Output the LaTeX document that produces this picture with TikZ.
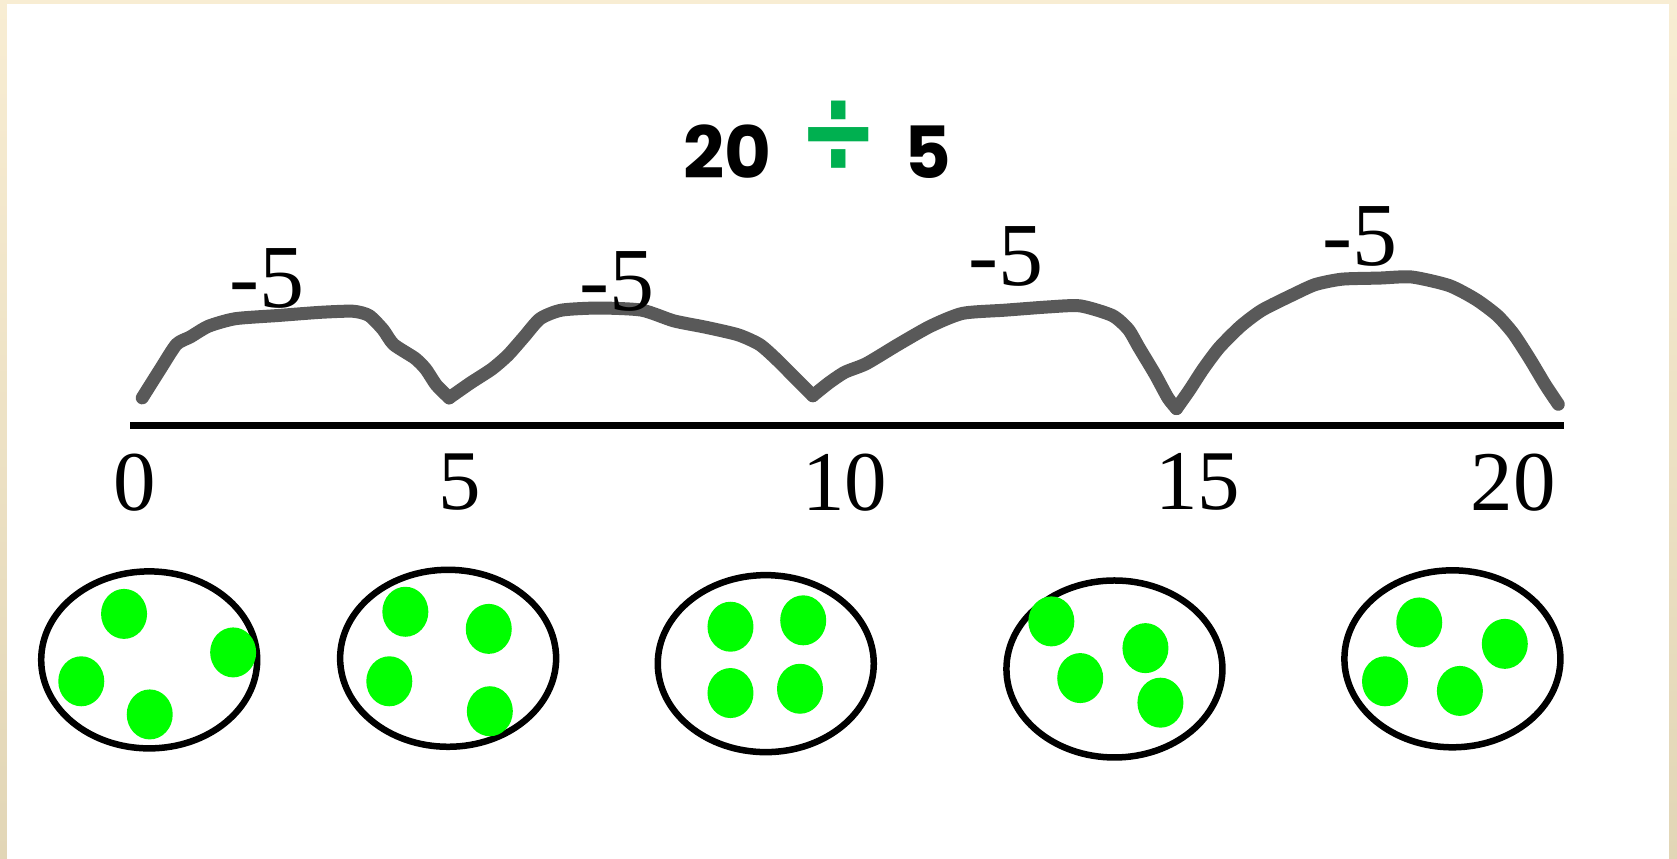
\documentclass[tikz,border=0pt]{standalone}
\usepackage{fontspec}
\usepackage{graphicx}
\setmainfont{Liberation Serif}
\newfontfamily\titlefont{Poppins}
\newfontfamily\symfont{DejaVu Sans}
\usetikzlibrary{shapes.geometric}
\definecolor{bordertop}{RGB}{248,237,211}
\definecolor{borderbot}{RGB}{226,214,182}
\definecolor{curvegray}{RGB}{89,89,89}
\definecolor{divgreen}{RGB}{0,176,80}
\definecolor{dotgreen}{RGB}{0,255,0}
\tikzset{
  titletext/.style={inner sep=0pt, font=\titlefont\bfseries\fontsize{72}{76}\selectfont},
  divsign/.style={inner sep=0pt, text=divgreen, font=\symfont\bfseries\fontsize{96}{100}\selectfont},
  jumplabel/.style={inner sep=0pt, font=\fontsize{90}{94}\selectfont},
  ticklabel/.style={inner sep=0pt, font=\fontsize{85}{90}\selectfont},
  jumpline/.style={draw=curvegray, line width=13pt, line cap=round, line join=round},
  axisline/.style={draw=black, line width=7.5pt},
  groupring/.style={draw=black, line width=6.5pt, shape=ellipse, inner sep=0pt,
    minimum width=216pt, minimum height=177pt},
  counter/.style={fill=dotgreen, shape=ellipse, inner sep=0pt,
    minimum width=46pt, minimum height=50pt}
}
\begin{document}
\begin{tikzpicture}[x=1.0695pt, y=-1.0695pt]
\useasboundingbox (0,0) rectangle (1568,803);
% frame
\fill[top color=bordertop, bottom color=borderbot] (0,0) rectangle (1568,803);
\fill[white] (6.5,3.7) rectangle (1560.5,803);

% title
\node[titletext] (t20) at (680,142) {20};
\node[divsign] (tdiv) at (784,128) {\scalebox{1}[1.29]{÷}};
\node[titletext] (t5) at (868,142) {5};

% number line
\coordinate (L0) at (122,398);
\coordinate (L1) at (1462,398);
\draw[axisline] (L0) -- (L1);

% tick labels
\node[ticklabel] (n0) at (126,451) {0};
\node[ticklabel] (n5) at (430,451) {5};
\node[ticklabel] (n10) at (790,451) {10};
\node[ticklabel] (n15) at (1120,451) {15};
\node[ticklabel] (n20) at (1415,451) {20};

% jumps
\draw[jumpline] plot[smooth, tension=0.4] coordinates {(133,372) (150,345) (165,322) (178,315) (195,305) (220,298) (260,295) (300,292) (330,291) (345,295) (358,308) (368,322) (388,335) (398,345) (408,360) (420,372)};
\draw[jumpline] plot[smooth, tension=0.4] coordinates {(420,372) (440,358) (460,345) (475,332) (490,315) (505,298) (525,290) (560,288) (600,290) (630,300) (660,306) (690,313) (710,322) (725,335) (745,355) (760,370)};
\draw[jumpline] plot[smooth, tension=0.4] coordinates {(760,370) (775,358) (790,348) (810,340) (840,322) (870,305) (900,293) (940,290) (980,287) (1010,286) (1040,295) (1055,308) (1065,325) (1080,350) (1092,372) (1100,382)};
\draw[jumpline] plot[smooth, tension=0.4] coordinates {(1100,382) (1112,365) (1125,345) (1140,325) (1160,305) (1180,290) (1210,275) (1230,266) (1255,261) (1290,260) (1320,259) (1355,267) (1380,280) (1400,295) (1415,312) (1430,335) (1445,360) (1457,378)};

% jump labels
\node[jumplabel] (j1) at (250,260) {-5};
\node[jumplabel] (j2) at (577,263) {-5};
\node[jumplabel] (j3) at (941,240) {-5};
\node[jumplabel] (j4) at (1272,221) {-5};

% groups
\node[groupring] (g1) at (139.5,617) {};
\node[groupring] (g2) at (419,615.5) {};
\node[groupring] (g3) at (716,620.5) {};
\node[groupring] (g4) at (1042,625.5) {};
\node[groupring] (g5) at (1358,616) {};

% counters
\node[counter] (c11) at (116,574) {};
\node[counter] (c12) at (218,610) {};
\node[counter] (c13) at (76,637) {};
\node[counter] (c14) at (140,668) {};

\node[counter] (c21) at (379,572) {};
\node[counter] (c22) at (457,588) {};
\node[counter] (c23) at (364,637) {};
\node[counter] (c24) at (458,665) {};

\node[counter] (c31) at (683,586) {};
\node[counter] (c32) at (751,580) {};
\node[counter] (c33) at (683,648) {};
\node[counter] (c34) at (748,644) {};

\node[counter] (c41) at (983,581) {};
\node[counter] (c42) at (1071,606) {};
\node[counter] (c43) at (1010,634) {};
\node[counter] (c44) at (1085,657) {};

\node[counter] (c51) at (1327,582) {};
\node[counter] (c52) at (1407,602) {};
\node[counter] (c53) at (1295,637) {};
\node[counter] (c54) at (1365,646) {};
\end{tikzpicture}
\end{document}
